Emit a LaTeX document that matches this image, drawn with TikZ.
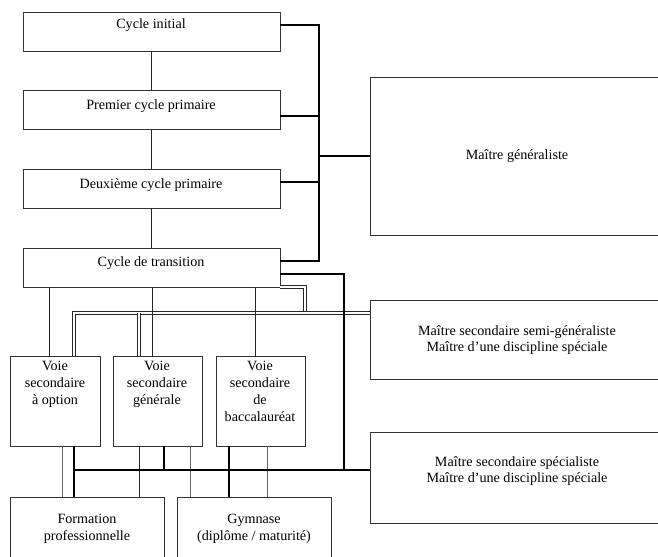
\documentclass[tikz,border=0pt]{standalone}
\usepackage{fontspec}
\setmainfont{Liberation Serif}
\usetikzlibrary{fit}

\begin{document}
\begin{tikzpicture}[x=0.75pt, y=-0.75pt,
  box/.style={draw=black!80, line width=0.6pt, inner sep=0pt},
  txt/.style={align=center, inner sep=0pt, font=\fontsize{10.6pt}{12.6pt}\selectfont},
  link/.style={draw=black!85, line width=0.6pt},
  feed/.style={line width=2.2pt, black},
  dbl/.style={draw=white, line width=0.8pt,
    preaction={draw=black!85, line width=2.3pt}}
]
  \useasboundingbox (0,0) rectangle (658,557);
  \clip (0,0) rectangle (658,557);

  % cycles
  \node[box, fit={(23,12) (280,51)}] (ini) {};
  \node[box, fit={(23,90) (280,129)}] (prim1) {};
  \node[box, fit={(23,169) (280,208)}] (prim2) {};
  \node[box, fit={(23,248) (280,287)}] (trans) {};
  \node[txt] at (151,25) {Cycle initial};
  \node[txt] at (151,106) {Premier cycle primaire};
  \node[txt] at (151,185) {Deuxième cycle primaire};
  \node[txt] at (151,263) {Cycle de transition};

  % maitres
  \node[box, fit={(370,77) (664,235)}] (gen) {};
  \node[box, fit={(370,300) (664,379)}] (semi) {};
  \node[box, fit={(370,432) (664,523)}] (spec) {};
  \node[txt] at (517,156) {Maître généraliste};
  \node[txt] at (517,340) {Maître secondaire semi-généraliste\\Maître d’une discipline spéciale};
  \node[txt] at (517,471) {Maître secondaire spécialiste\\Maître d’une discipline spéciale};

  % voies
  \node[box, fit={(10,356) (100,446)}] (opt) {};
  \node[box, fit={(113,356) (202,446)}] (vgen) {};
  \node[box, fit={(216,356) (305,446)}] (bac) {};
  \node[txt, anchor=north] at (55,361) {Voie\\secondaire\\à option};
  \node[txt, anchor=north] at (157,361) {Voie\\secondaire\\générale};
  \node[txt, anchor=north] at (260,361) {Voie\\secondaire\\de\\baccalauréat};

  % sorties
  \node[box, fit={(10,497) (164,580)}] (prof) {};
  \node[box, fit={(177,497) (331,580)}] (gym) {};
  \node[txt] at (87,529) {Formation\\professionnelle};
  \node[txt] at (254,529) {Gymnase\\(diplôme / maturité)};

  % double links
  \draw[dbl] (trans.east |- 0,287) -| (305,313);
  \draw[dbl] (opt.north -| 74,0) |- (semi.west |- 0,313);
  \draw[dbl] (vgen.north -| 139,0) -- (139,313);

  % thin links
  \draw[link] (ini.south) -- (prim1.north);
  \draw[link] (prim1.south) -- (prim2.north);
  \draw[link] (prim2.south) -- (trans.north);
  \draw[link] (trans.south -| 49,0) -- (opt.north -| 49,0);
  \draw[link] (trans.south -| 152,0) -- (vgen.north -| 152,0);
  \draw[link] (trans.south -| 255,0) -- (bac.north -| 255,0);
  \draw[link, draw=black!60] (opt.south -| 62,0) -- (prof.north -| 62,0);
  \draw[link] (vgen.south -| 139,0) -- (prof.north -| 139,0);
  \draw[link, draw=black!60] (vgen.south -| 190,0) -- (gym.north -| 190,0);
  \draw[link, draw=black!60] (bac.south -| 267,0) -- (gym.north -| 267,0);

  % thick links
  \draw[feed] (ini.east |- 0,25) -| (319,261) -- (trans.east |- 0,261);
  \draw[feed] (prim1.east |- 0,116) -- (319,116);
  \draw[feed, line width=1.6pt] (prim2.east |- 0,182) -- (319,182);
  \draw[feed, line width=1.6pt] (319,156) -- (gen.west |- 0,156);
  \draw[feed] (trans.east |- 0,274) -| (344,470);
  \draw[feed] (74,470) -- (spec.west |- 0,470);
  \draw[feed] (opt.south -| 74,0) -- (prof.north -| 74,0);
  \draw[feed] (vgen.south -| 164,0) -- (164,470);
  \draw[feed] (bac.south -| 229,0) -- (gym.north -| 229,0);
\end{tikzpicture}
\end{document}
